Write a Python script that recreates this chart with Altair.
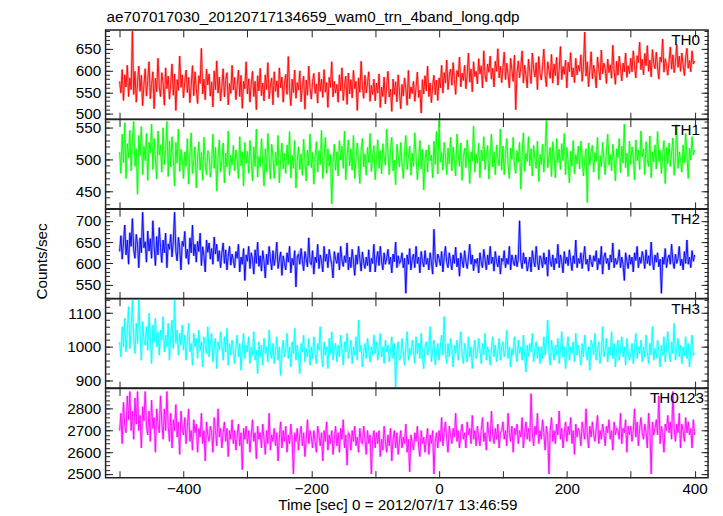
import altair as alt
import pandas as pd

# time bins (sec), 0 = 2012/07/17 13:46:59
time = list(range(-500, 401, 2))

th0 = [
    575, 548, 602, 531, 590, 562, 612, 540, 583, 556,
    690, 545, 598, 527, 573, 610, 552, 589, 519, 566,
    604, 541, 577, 620, 535, 568, 597, 512, 582, 551,
    628, 563, 540, 595, 571, 520, 606, 558, 587, 534,
    569, 615, 543, 592, 508, 579, 554, 633, 561, 590,
    537, 576, 601, 549, 584, 526, 565, 611, 542, 597,
    558, 524, 588, 570, 651, 546, 580, 533, 603, 567,
    592, 541, 574, 516, 599, 556, 622, 548, 585, 530,
    563, 604, 539, 578, 595, 521, 570, 547, 612, 555,
    584, 533, 566, 601, 540, 589, 513, 575, 558, 620,
    546, 581, 527, 569, 598, 540, 575, 510, 588, 553,
    605, 542, 571, 530, 590, 556, 618, 535, 564, 583,
    521, 597, 552, 576, 538, 606, 560, 585, 527, 570,
    591, 545, 632, 558, 519, 580, 549, 601, 536, 572,
    555, 599, 528, 566, 587, 511, 578, 543, 610, 560,
    534, 575, 593, 547, 569, 525, 596, 552, 580, 538,
    602, 550, 572, 515, 584, 561, 620, 539, 575, 548,
    568, 527, 590, 553, 606, 531, 565, 587, 522, 594,
    546, 579, 537, 600, 558, 575, 508, 583, 550, 621,
    562, 536, 589, 548, 572, 597, 529, 566, 545, 580,
    530, 571, 548, 592, 515, 562, 540, 585, 523, 566,
    598, 539, 557, 506, 580, 545, 574, 528, 590, 552,
    512, 568, 541, 583, 557, 520, 600, 535, 562, 547,
    575, 529, 561, 596, 538, 555, 502, 579, 546, 588,
    553, 610, 540, 571, 526, 565, 589, 544, 578, 531,
    583, 560, 612, 548, 595, 571, 624, 556, 589, 603,
    566, 618, 579, 545, 600, 585, 631, 562, 594, 577,
    612, 558, 590, 640, 573, 603, 551, 620, 586, 598,
    569, 627, 592, 611, 560, 645, 588, 574, 615, 596,
    633, 580, 605, 562, 621, 598, 650, 583, 610, 572,
    606, 642, 579, 617, 590, 560, 628, 601, 575, 635,
    510, 594, 622, 583, 608, 645, 571, 612, 589, 560,
    626, 597, 570, 640, 603, 585, 618, 556, 632, 594,
    578, 611, 649, 590, 563, 620, 600, 582, 637, 571,
    615, 588, 630, 566, 602, 655, 579, 609, 591, 624,
    560, 619, 597, 641, 585, 606, 572, 628, 590, 612,
    598, 636, 575, 609, 688, 587, 620, 563, 601, 643,
    581, 612, 594, 560, 631, 603, 578, 647, 592, 617,
    604, 570, 626, 595, 613, 582, 658, 599, 568, 621,
    589, 633, 606, 576, 617, 597, 640, 584, 611, 593,
    628, 597, 645, 610, 583, 634, 618, 665, 602, 626,
    590, 639, 611, 657, 598, 624, 585, 648, 617, 604,
    642, 608, 580, 631, 619, 672, 596, 627, 612, 589,
    621, 654, 603, 636, 595, 618, 660, 607, 633, 598,
    640, 612, 588, 629, 651, 605, 623, 597, 645, 615,
    622,
]

th1 = [
    512, 478, 540, 495, 558, 470, 525, 503, 546, 482,
    530, 560, 489, 517, 445, 538, 506, 552, 476, 521,
    498, 541, 467, 527, 510, 556, 484, 533, 501, 469,
    545, 507, 523, 480, 550, 492, 514, 560, 473, 529,
    488, 536, 502, 458, 527, 494, 548, 481, 516, 503,
    470, 512, 489, 533, 461, 507, 542, 478, 498, 520,
    455, 502, 528, 483, 511, 467, 535, 495, 476, 514,
    508, 472, 493, 540, 486, 519, 450, 501, 531, 480,
    497, 526, 463, 510, 488, 545, 475, 507, 491, 522,
    482, 515, 499, 470, 536, 490, 512, 458, 527, 494,
    513, 478, 530, 501, 466, 520, 489, 548, 472, 505,
    488, 533, 496, 458, 517, 480, 541, 502, 469, 524,
    505, 470, 512, 490, 538, 463, 500, 526, 485, 510,
    478, 523, 492, 544, 471, 507, 486, 530, 455, 499,
    520, 484, 509, 475, 532, 497, 466, 515, 490, 540,
    487, 511, 461, 503, 528, 480, 514, 492, 546, 470,
    502, 535, 478, 517, 489, 508, 430, 496, 524, 483,
    512, 474, 530, 499, 521, 486, 545, 468, 505, 531,
    490, 517, 483, 538, 470, 502, 526, 495, 462, 515,
    533, 488, 509, 475, 519, 495, 541, 481, 507, 522,
    468, 500, 531, 486, 514, 477, 525, 503, 491, 548,
    509, 476, 517, 535, 482, 499, 460, 524, 506, 488,
    527, 493, 470, 512, 538, 484, 503, 521, 475, 510,
    489, 542, 505, 468, 497, 530, 485, 516, 452, 501,
    515, 480, 523, 498, 507, 471, 529, 492, 544, 477,
    562, 496, 511, 483, 527, 505, 476, 518, 493, 535,
    482, 520, 499, 474, 540, 508, 489, 526, 467, 503,
    518, 487, 531, 503, 462, 512, 497, 553, 480, 509,
    494, 526, 471, 515, 498, 536, 484, 507, 522, 469,
    505, 540, 488, 512, 476, 523, 501, 490, 548, 483,
    521, 476, 509, 533, 492, 470, 518, 500, 535, 489,
    478, 514, 496, 527, 453, 506, 542, 481, 510, 497,
    536, 490, 517, 474, 522, 501, 486, 529, 465, 508,
    492, 524, 480, 511, 562, 487, 504, 519, 473, 528,
    507, 471, 533, 495, 516, 484, 525, 498, 541, 476,
    519, 496, 463, 513, 489, 530, 477, 508, 493, 521,
    485, 529, 506, 474, 500, 517, 432, 526, 491, 512,
    522, 480, 511, 497, 535, 468, 506, 488, 527, 500,
    476, 515, 540, 491, 508, 482, 524, 499, 466, 517,
    503, 533, 479, 521, 494, 556, 487, 510, 473, 529,
    492, 520, 505, 468, 531, 498, 515, 484, 545, 504,
    517, 476, 528, 500, 489, 537, 471, 512, 496, 523,
    485, 544, 497, 515, 478, 506, 530, 462, 519, 493,
    526, 489, 510, 534, 475, 503, 555, 486, 512, 499,
    480, 523, 495, 541, 505, 470, 518, 499, 536, 507,
    515,
]

th2 = [
    628, 665, 610, 648, 690, 620, 655, 598, 672, 640,
    705, 632, 612, 668, 645, 590, 660, 625, 720, 637,
    651, 603, 676, 629, 658, 612, 700, 641, 595, 663,
    620, 684, 638, 602, 655, 625, 671, 590, 646, 633,
    668, 615, 650, 720, 628, 606, 661, 637, 585, 652,
    640, 675, 612, 633, 598, 660, 625, 690, 618, 645,
    603, 652, 628, 671, 595, 639, 617, 580, 655, 626,
    648, 610, 635, 598, 662, 622, 645, 605, 630, 590,
    625, 648, 600, 632, 585, 617, 640, 596, 622, 608,
    590, 628, 612, 645, 580, 615, 598, 635, 560, 620,
    605, 640, 588, 625, 610, 575, 632, 600, 650, 593,
    618, 582, 630, 605, 566, 622, 597, 640, 611, 585,
    630, 595, 615, 650, 588, 608, 627, 572, 618, 600,
    585, 625, 603, 640, 578, 612, 596, 630, 545, 615,
    622, 598, 635, 607, 583, 628, 611, 592, 660, 603,
    597, 630, 575, 615, 602, 645, 588, 620, 606, 580,
    640, 605, 622, 590, 633, 612, 598, 566, 628, 610,
    600, 625, 585, 640, 608, 593, 618, 602, 648, 585,
    615, 590, 633, 605, 572, 620, 598, 640, 610, 582,
    627, 603, 588, 615, 595, 632, 580, 612, 600, 645,
    580, 610, 628, 595, 640, 605, 585, 625, 598, 612,
    633, 598, 615, 578, 622, 604, 650, 590, 618, 600,
    606, 625, 590, 612, 530, 620, 598, 635, 585, 610,
    622, 590, 640, 600, 615, 578, 628, 605, 592, 630,
    598, 612, 585, 625, 603, 575, 680, 610, 592, 622,
    612, 595, 628, 580, 615, 640, 602, 590, 625, 605,
    585, 620, 600, 638, 592, 612, 570, 625, 608, 590,
    630, 605, 588, 615, 645, 598, 620, 583, 610, 600,
    612, 578, 625, 602, 590, 633, 608, 585, 620, 597,
    640, 600, 615, 582, 628, 605, 592, 618, 575, 612,
    605, 630, 590, 612, 598, 640, 585, 620, 605, 595,
    620, 592, 610, 700, 605, 588, 625, 600, 615, 582,
    598, 615, 580, 630, 607, 592, 640, 605, 585, 618,
    610, 590, 625, 598, 615, 570, 632, 605, 593, 620,
    585, 612, 600, 645, 590, 620, 605, 578, 628, 600,
    615, 595, 632, 607, 583, 618, 600, 655, 590, 612,
    600, 625, 588, 615, 640, 598, 610, 582, 620, 605,
    592, 618, 605, 630, 585, 612, 598, 640, 575, 615,
    625, 600, 612, 585, 620, 603, 648, 590, 612, 598,
    608, 632, 590, 615, 598, 560, 625, 605, 588, 620,
    598, 615, 580, 625, 607, 640, 590, 615, 600, 628,
    612, 588, 632, 600, 618, 595, 650, 605, 585, 620,
    603, 625, 592, 610, 530, 615, 598, 635, 590, 612,
    620, 598, 645, 605, 588, 622, 600, 612, 640, 595,
    610, 585, 628, 600, 655, 598, 615, 590, 630, 605,
    620,
]

th3 = [
    1015, 970, 1060, 1000, 1085, 985, 1045, 1120, 995, 1050,
    1140, 1025, 980, 1070, 1010, 1140, 1040, 960, 1075, 1020,
    1005, 1060, 990, 1100, 1030, 950, 1065, 1015, 1085, 1000,
    1045, 975, 1050, 1020, 1090, 985, 1035, 1000, 1070, 960,
    1030, 1080, 995, 1140, 1010, 1050, 975, 1040, 1005, 1065,
    990, 1035, 960, 1020, 1070, 985, 1010, 945, 1040, 1000,
    1025, 965, 1050, 990, 1015, 940, 1030, 1005, 980, 1060,
    970, 1010, 1040, 955, 1000, 1025, 935, 1015, 990, 1045,
    1005, 960, 1030, 985, 1055, 945, 1010, 975, 1020, 990,
    950, 1000, 1035, 970, 1010, 930, 995, 1040, 965, 1005,
    985, 1030, 950, 1000, 975, 1045, 960, 990, 920, 1015,
    970, 1005, 945, 1025, 980, 1000, 955, 1050, 985, 965,
    1010, 950, 990, 1030, 960, 1000, 915, 985, 1020, 970,
    995, 1040, 965, 1000, 940, 1015, 980, 1055, 960, 1005,
    975, 920, 1010, 985, 1035, 955, 995, 970, 1025, 945,
    1000, 965, 1030, 980, 950, 1010, 990, 1060, 970, 940,
    1015, 975, 1000, 935, 1025, 980, 1045, 960, 995, 1010,
    955, 1005, 970, 1035, 990, 945, 1015, 985, 1040, 965,
    990, 1020, 950, 1000, 975, 1030, 960, 1080, 985, 1005,
    940, 985, 1010, 965, 1025, 990, 955, 1000, 975, 1035,
    980, 1015, 960, 995, 1040, 970, 1000, 950, 1020, 985,
    1005, 955, 990, 1030, 965, 1010, 880, 985, 1015, 960,
    970, 1025, 985, 945, 1000, 1045, 960, 995, 975, 1020,
    990, 950, 1030, 980, 1010, 965, 1040, 970, 935, 1000,
    1015, 975, 995, 1060, 955, 990, 1020, 945, 985, 1010,
    960, 1000, 1035, 975, 1090, 985, 950, 1010, 970, 1025,
    995, 940, 1005, 980, 1020, 960, 1000, 1045, 975, 950,
    1010, 985, 955, 1030, 970, 1000, 935, 990, 1020, 965,
    980, 1025, 990, 950, 1010, 975, 1040, 960, 1000, 985,
    945, 995, 1030, 970, 1005, 955, 985, 1025, 960, 1000,
    1015, 970, 990, 1050, 965, 1000, 940, 995, 975, 1030,
    985, 955, 1020, 980, 1000, 960, 1035, 970, 925, 1005,
    970, 1010, 985, 1040, 955, 995, 1015, 965, 1000, 950,
    1000, 965, 1030, 975, 1010, 1080, 980, 945, 1020, 990,
    960, 1005, 975, 1025, 950, 990, 1045, 970, 1000, 935,
    995, 1030, 960, 1000, 980, 1015, 955, 1040, 975, 1005,
    980, 945, 1010, 970, 1035, 990, 960, 1000, 930, 1020,
    1005, 975, 1040, 960, 995, 1015, 950, 985, 1060, 970,
    990, 1025, 955, 1000, 975, 1045, 965, 1010, 940, 995,
    1020, 960, 990, 1030, 970, 1000, 945, 1025, 985, 960,
    975, 1010, 950, 995, 1040, 965, 1000, 980, 1020, 955,
    1000, 970, 1035, 985, 950, 1010, 975, 1060, 960, 995,
    965, 1020, 990, 940, 1005, 975, 1030, 955, 1000, 1045,
    985, 955, 1015, 980, 1070, 960, 995, 1025, 970, 1005,
    950, 1000, 975, 1030, 965, 1010, 940, 990, 1035, 975,
    980,
]

th0123 = [
    2700, 2780, 2640, 2830, 2720, 2690, 2860, 2750, 2880, 2700,
    2790, 2660, 2850, 2730, 2880, 2700, 2770, 2620, 2810, 2745,
    2880, 2720, 2680, 2790, 2650, 2840, 2710, 2760, 2600, 2800,
    2730, 2690, 2860, 2740, 2660, 2800, 2700, 2880, 2720, 2650,
    2780, 2620, 2750, 2700, 2820, 2670, 2740, 2590, 2790, 2710,
    2680, 2760, 2640, 2720, 2800, 2650, 2700, 2610, 2750, 2690,
    2730, 2600, 2710, 2670, 2780, 2640, 2700, 2560, 2740, 2680,
    2650, 2720, 2690, 2600, 2760, 2700, 2630, 2800, 2670, 2710,
    2620, 2690, 2740, 2650, 2710, 2580, 2700, 2660, 2750, 2640,
    2700, 2610, 2680, 2730, 2630, 2690, 2520, 2710, 2660, 2720,
    2640, 2700, 2600, 2680, 2750, 2650, 2690, 2570, 2720, 2660,
    2690, 2620, 2730, 2660, 2590, 2700, 2640, 2780, 2610, 2680,
    2650, 2710, 2630, 2690, 2560, 2670, 2740, 2620, 2700, 2650,
    2720, 2600, 2680, 2640, 2730, 2660, 2500, 2690, 2650, 2710,
    2610, 2680, 2720, 2630, 2690, 2580, 2660, 2750, 2640, 2700,
    2670, 2620, 2700, 2650, 2600, 2720, 2680, 2630, 2690, 2560,
    2700, 2650, 2740, 2610, 2680, 2640, 2700, 2590, 2660, 2720,
    2630, 2690, 2600, 2710, 2660, 2750, 2620, 2680, 2540, 2690,
    2680, 2610, 2700, 2650, 2720, 2630, 2670, 2600, 2710, 2650,
    2640, 2720, 2660, 2590, 2700, 2640, 2680, 2500, 2660, 2700,
    2620, 2690, 2640, 2700, 2580, 2660, 2610, 2720, 2650, 2600,
    2680, 2630, 2710, 2560, 2660, 2700, 2620, 2690, 2590, 2650,
    2700, 2620, 2670, 2640, 2730, 2600, 2660, 2510, 2680, 2640,
    2610, 2690, 2650, 2720, 2630, 2580, 2700, 2640, 2670, 2600,
    2660, 2710, 2590, 2680, 2640, 2700, 2500, 2650, 2690, 2620,
    2700, 2650, 2760, 2630, 2690, 2740, 2660, 2600, 2720, 2680,
    2640, 2710, 2670, 2780, 2650, 2700, 2620, 2690, 2730, 2660,
    2690, 2620, 2740, 2680, 2710, 2640, 2770, 2660, 2700, 2630,
    2720, 2670, 2630, 2700, 2760, 2650, 2690, 2610, 2740, 2680,
    2650, 2790, 2680, 2640, 2710, 2660, 2730, 2620, 2690, 2700,
    2740, 2660, 2700, 2630, 2780, 2690, 2650, 2720, 2600, 2710,
    2680, 2730, 2640, 2700, 2670, 2760, 2620, 2690, 2740, 2660,
    2710, 2650, 2870, 2690, 2630, 2720, 2680, 2780, 2640, 2700,
    2660, 2750, 2690, 2610, 2720, 2680, 2500, 2700, 2760, 2650,
    2700, 2640, 2730, 2680, 2790, 2660, 2710, 2620, 2690, 2740,
    2650, 2720, 2680, 2760, 2640, 2700, 2590, 2730, 2670, 2710,
    2690, 2630, 2740, 2700, 2660, 2800, 2680, 2620, 2720, 2670,
    2740, 2680, 2650, 2710, 2770, 2640, 2700, 2660, 2730, 2690,
    2630, 2720, 2690, 2750, 2660, 2700, 2610, 2740, 2680, 2710,
    2700, 2660, 2780, 2640, 2710, 2690, 2750, 2600, 2720, 2680,
    2720, 2650, 2700, 2800, 2670, 2740, 2630, 2710, 2760, 2690,
    2660, 2730, 2690, 2620, 2780, 2700, 2500, 2740, 2680, 2710,
    2750, 2680, 2860, 2640, 2720, 2690, 2600, 2730, 2700, 2770,
    2690, 2740, 2660, 2880, 2710, 2650, 2730, 2690, 2780, 2620,
    2730, 2700, 2650, 2760, 2690, 2740, 2680, 2710, 2620, 2750,
    2680,
]

band_names = ["TH0", "TH1", "TH2", "TH3", "TH0123"]
band_values = [th0, th1, th2, th3, th0123]
band_colors = ["#ff0000", "#00ff00", "#0000ff", "#00ffff", "#ff00ff"]
y_domains = [[488, 693], [422, 563], [518, 727], [877, 1143], [2483, 2894]]
y_major = [[500, 550, 600, 650], [450, 500, 550], [550, 600, 650, 700],
           [900, 1000, 1100], [2500, 2600, 2700, 2800]]
y_minor = [list(range(490, 691, 10)), list(range(430, 561, 10)), list(range(520, 721, 10)),
           list(range(880, 1141, 20)), list(range(2500, 2881, 20))]
label_x = [597, 597, 597, 597, 601]
x_ticks = [-500, -400, -300, -200, -100, 0, 100, 200, 300, 400]
x_labels = [-400, -200, 0, 200, 400]
file_title = "ae707017030_20120717134659_wam0_trn_4band_long.qdp"

W = 605
H = 89.6
XDOM = [-522, 421]
FONT = "Liberation Sans"
FS = 15.3
TICKC = "#222222"


def panel(i):
    last = i == len(band_names) - 1
    xs = alt.Scale(domain=XDOM, nice=False, zero=False)
    ys = alt.Scale(domain=y_domains[i], nice=False, zero=False)
    df = pd.DataFrame({"t": time, "v": band_values[i]})
    dummy = pd.DataFrame({"t": [0], "v": [y_domains[i][0]]})

    if last:
        xaxis = alt.Axis(values=x_labels, ticks=False, tickSize=0, labelPadding=4,
                         format="d", labelFlush=False, domain=False, grid=False,
                         title="Time [sec] 0 = 2012/07/17 13:46:59",
                         titleX=293, titleY=32, titleBaseline="alphabetic",
                         titleAlign="center")
    else:
        xaxis = None

    ykw = dict(values=y_major[i], ticks=False, tickSize=0, labelPadding=5,
               format="d", labelFlush=False, domain=False, grid=False)
    if i == 2:
        yaxis = alt.Axis(title="Counts/sec", titleX=-59, titleY=52, titleAngle=270,
                         titleBaseline="alphabetic", titleAlign="center", **ykw)
    else:
        yaxis = alt.Axis(title=None, **ykw)

    base = alt.Chart(df)
    halo = base.mark_line(color=band_colors[i], strokeWidth=2.5, opacity=0.35, clip=True).encode(
        x=alt.X("t:Q", scale=xs, axis=xaxis),
        y=alt.Y("v:Q", scale=ys, axis=yaxis),
    )
    core = base.mark_line(color=band_colors[i], strokeWidth=0.9, clip=True).encode(
        x=alt.X("t:Q", scale=xs, axis=None),
        y=alt.Y("v:Q", scale=ys, axis=None),
    )

    def tick_layer(xax, yax):
        return alt.Chart(dummy).mark_point(opacity=0).encode(
            x=alt.X("t:Q", scale=xs, axis=xax),
            y=alt.Y("v:Q", scale=ys, axis=yax),
        )

    common = dict(labels=False, title=None, domain=False, grid=False,
                  tickColor=TICKC, tickWidth=1)
    lb = tick_layer(
        alt.Axis(orient="top", offset=-H, values=x_ticks, tickSize=7, **common),
        alt.Axis(orient="right", offset=-W, values=y_major[i], tickSize=7, **common),
    )
    lc = tick_layer(
        alt.Axis(orient="bottom", offset=-H, values=x_ticks, tickSize=7, **common),
        alt.Axis(orient="left", offset=-W, values=y_major[i], tickSize=7, **common),
    )
    ld = tick_layer(
        None,
        alt.Axis(orient="right", offset=-W, values=y_minor[i], tickSize=4, **common),
    )
    le = tick_layer(
        None,
        alt.Axis(orient="left", offset=-W, values=y_minor[i], tickSize=4, **common),
    )
    label = alt.Chart(pd.DataFrame({"lab": [band_names[i]]})).mark_text(
        align="right", baseline="alphabetic", fontSize=FS, font=FONT, color="black"
    ).encode(x=alt.value(label_x[i]), y=alt.value(15), text="lab:N")

    layers = [halo, core, lb, lc, ld, le, label]
    if i == 0:
        head = alt.Chart(pd.DataFrame({"ttl": [file_title]})).mark_text(
            align="left", baseline="alphabetic", fontSize=FS, font=FONT, color="black"
        ).encode(x=alt.value(1), y=alt.value(-8), text="ttl:N")
        layers.append(head)

    return alt.layer(*layers).resolve_axis(
        x="independent", y="independent"
    ).properties(width=W, height=H)


chart = alt.vconcat(*[panel(i) for i in range(len(band_names))], spacing=0, bounds="flush").properties(
    padding={"left": 26, "top": 0, "right": 5, "bottom": 0},
).configure_axis(
    labelFont=FONT, titleFont=FONT, labelFontSize=FS, titleFontSize=FS,
    labelColor="black", titleColor="black", titleFontWeight="normal",
).configure_view(stroke=TICKC, strokeWidth=1.5)

chart.save("out.html", embed_options={"renderer": "svg", "actions": False})
